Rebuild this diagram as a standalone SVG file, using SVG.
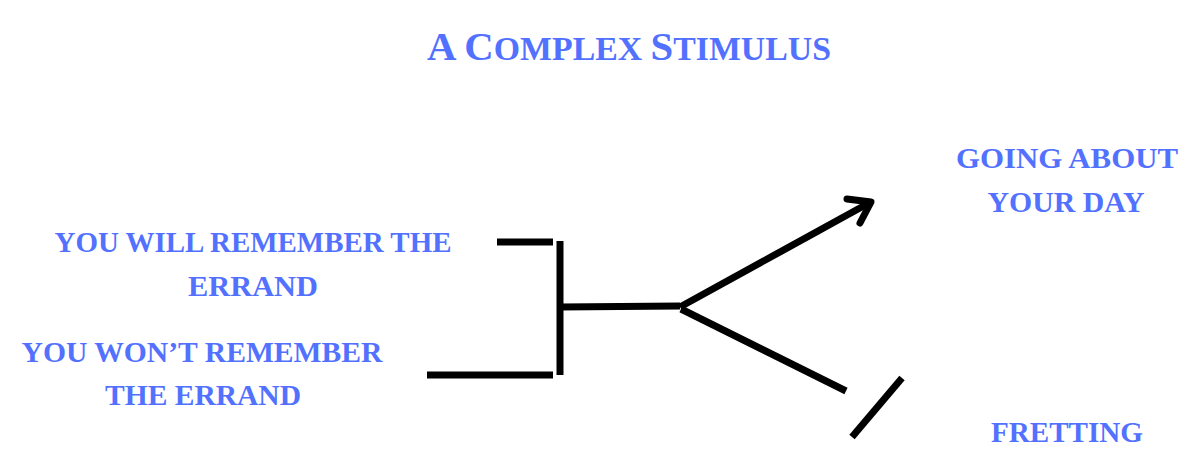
<svg xmlns="http://www.w3.org/2000/svg" width="1197" height="472" viewBox="0 0 1197 472">
<style>
.lbl{font-family:"Liberation Serif","DejaVu Serif",serif;font-weight:bold;fill:#5271FF;text-anchor:middle;font-size:30px}
.ttl{font-family:"Liberation Serif","DejaVu Serif",serif;font-weight:bold;fill:#5271FF;text-anchor:middle}
.ln{stroke:#000;stroke-width:7;fill:none}
</style>
<rect width="1197" height="472" fill="#fff"/>
<g id="title">
<text class="ttl" x="629" y="60" textLength="404" lengthAdjust="spacingAndGlyphs"><tspan font-size="41">A C</tspan><tspan font-size="34">OMPLEX </tspan><tspan font-size="41">S</tspan><tspan font-size="34">TIMULUS</tspan></text>
</g>
<g id="node-will">
<text class="lbl" x="253" y="252" textLength="397" lengthAdjust="spacingAndGlyphs">YOU WILL REMEMBER THE</text>
<text class="lbl" x="253" y="296" textLength="130" lengthAdjust="spacingAndGlyphs">ERRAND</text>
</g>
<g id="node-wont">
<text class="lbl" x="202" y="362" textLength="361" lengthAdjust="spacingAndGlyphs">YOU WON’T REMEMBER</text>
<text class="lbl" x="203" y="405" textLength="196" lengthAdjust="spacingAndGlyphs">THE ERRAND</text>
</g>
<g id="node-going">
<text class="lbl" x="1067" y="168" textLength="222" lengthAdjust="spacingAndGlyphs">GOING ABOUT</text>
<text class="lbl" x="1066" y="212" textLength="157" lengthAdjust="spacingAndGlyphs">YOUR DAY</text>
</g>
<g id="node-fretting">
<text class="lbl" x="1067" y="442" textLength="152" lengthAdjust="spacingAndGlyphs">FRETTING</text>
</g>
<g id="connectors">
<line class="ln" x1="497" y1="242" x2="553" y2="242"/>
<line class="ln" x1="427" y1="375" x2="553" y2="375"/>
<line class="ln" x1="560" y1="241" x2="560" y2="375"/>
<line class="ln" x1="560" y1="307" x2="680" y2="306"/>
<line class="ln" x1="680" y1="307" x2="869" y2="203"/>
<polyline class="ln" points="847,199 871,202 860,223" stroke-linecap="round" stroke-linejoin="round"/>
<line class="ln" x1="681" y1="309" x2="846" y2="391"/>
<line class="ln" x1="902" y1="378" x2="852" y2="437"/>
</g>
</svg>
